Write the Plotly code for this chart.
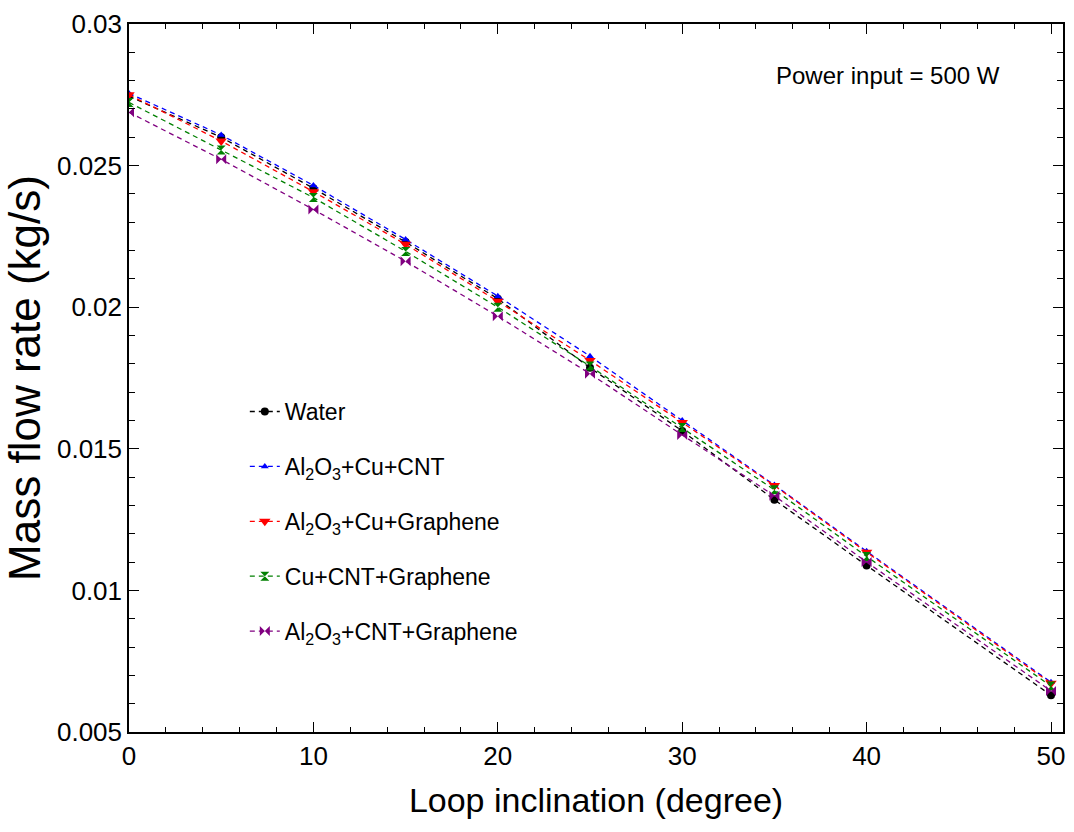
import plotly.graph_objects as go

inclination = [0, 5, 10, 15, 20, 25, 30, 35, 40, 50]

water = [0.02745, 0.02600, 0.02420, 0.02230, 0.02030, 0.01786, 0.01563, 0.01320, 0.01088, 0.00630]
al2o3_cu_cnt = [0.02755, 0.02608, 0.02430, 0.02239, 0.02039, 0.01827, 0.01600, 0.01372, 0.01138, 0.00676]
al2o3_cu_graphene = [0.02750, 0.02587, 0.02408, 0.02222, 0.02021, 0.01812, 0.01593, 0.01370, 0.01135, 0.00672]
cu_cnt_graphene = [0.02723, 0.02555, 0.02387, 0.02197, 0.02000, 0.01792, 0.01575, 0.01355, 0.01120, 0.00662]
al2o3_cnt_graphene = [0.02688, 0.02522, 0.02345, 0.02162, 0.01968, 0.01765, 0.01549, 0.01334, 0.01100, 0.00645]

series_names = ["Water", "Al<sub>2</sub>O<sub>3</sub>+Cu+CNT", "Al<sub>2</sub>O<sub>3</sub>+Cu+Graphene",
                "Cu+CNT+Graphene", "Al<sub>2</sub>O<sub>3</sub>+CNT+Graphene"]
series_values = [water, al2o3_cu_cnt, al2o3_cu_graphene, cu_cnt_graphene, al2o3_cnt_graphene]
colors = ["#000000", "#0000FF", "#FF0000", "#008000", "#800080"]
symbols = ["circle", "triangle-up", "triangle-down", "hourglass", "bowtie"]
sizes = [8, 7, 10, 9, 10]

fig = go.Figure()
for i, (name, vals) in enumerate(zip(series_names, series_values)):
    fig.add_trace(go.Scatter(
        x=inclination, y=vals, name=name, mode="lines+markers",
        legendgroup=f"g{i}",
        line=dict(color=colors[i], width=1.3, dash="5px,4px"),
        marker=dict(symbol=symbols[i], size=sizes[i], color=colors[i],
                    line=dict(width=0, color=colors[i])),
    ))

axis_common = dict(
    showline=True, linecolor="black", linewidth=1.5, mirror="ticks",
    ticks="inside", ticklen=10, tickwidth=1.2, tickcolor="black",
    showgrid=False, zeroline=False,
)

fig.update_xaxes(
    range=[0, 50.65], tickmode="array", tickvals=[0, 10, 20, 30, 40, 50],
    ticktext=["0", "10", "20", "30", "40", "50"],
    minor=dict(ticks="inside", ticklen=5, tickwidth=1, tickcolor="black", dtick=2, tick0=0),
    tickfont=dict(family="Liberation Sans, Arial", size=26, color="black"),
    title=dict(text="Loop inclination (degree)",
               font=dict(family="Liberation Sans, Arial", size=34, color="black"),
               standoff=18),
    **axis_common,
)
fig.update_yaxes(
    range=[0.005, 0.03], tickmode="array",
    tickvals=[0.005, 0.01, 0.015, 0.02, 0.025, 0.03],
    ticktext=["0.005", "0.01", "0.015", "0.02", "0.025", "0.03"],
    minor=dict(ticks="inside", ticklen=6, tickwidth=1, tickcolor="black", dtick=0.001, tick0=0.005),
    tickfont=dict(family="Liberation Sans, Arial", size=26, color="black"),
    title=dict(text="Mass flow rate (kg/s)",
               font=dict(family="Liberation Sans, Arial", size=44, color="black"),
               standoff=6),
    **axis_common,
)

fig.add_annotation(
    x=0.813, y=0.927, xref="paper", yref="paper", showarrow=False,
    xanchor="center", yanchor="middle",
    text="Power input = 500 W",
    font=dict(family="Liberation Sans, Arial", size=24, color="black"),
)

fig.update_layout(
    width=1074, height=832,
    margin=dict(l=129, r=9, t=22, b=100),
    paper_bgcolor="white", plot_bgcolor="white",
    showlegend=True,
    legend=dict(
        x=0.124, y=0.483, xanchor="left", yanchor="top",
        bgcolor="rgba(0,0,0,0)", borderwidth=0,
        font=dict(family="Liberation Sans, Arial", size=23, color="black"),
        tracegroupgap=22, traceorder="grouped",
    ),
)

fig.write_html("out.html")
